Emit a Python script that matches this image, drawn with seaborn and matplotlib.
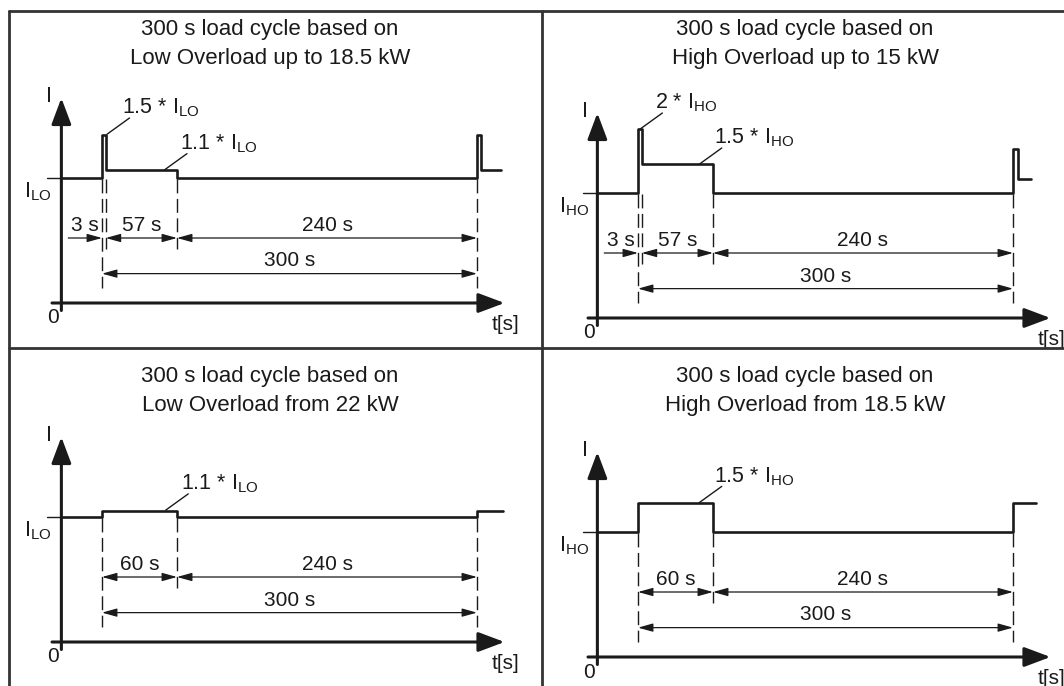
import matplotlib
matplotlib.use("Agg")
import matplotlib.pyplot as plt
from matplotlib.lines import Line2D
import seaborn as sns

#########################################################################
# load cycle shapes: step edges in seconds, drawn current level (x rated current)
tl_t = [-32.5, 0, 3, 60, 300, 303, 319]
tl_i = [1.0, 1.34, 1.06, 1.0, 1.34, 1.06, 1.06]
tr_t = [-32.5, 0, 3, 60, 300, 304, 314]
tr_i = [1.0, 1.51, 1.23, 1.0, 1.35, 1.11, 1.11]
bl_t = [-32.5, 0, 60, 300, 321]
bl_i = [1.0, 1.05, 1.0, 1.05, 1.05]
br_t = [-32.5, 0, 60, 300, 318]
br_i = [1.0, 1.23, 1.0, 1.23, 1.23]

titles = ["300 s load cycle based on\nLow Overload up to 18.5 kW",
          "300 s load cycle based on\nHigh Overload up to 15 kW",
          "300 s load cycle based on\nLow Overload from 22 kW",
          "300 s load cycle based on\nHigh Overload from 18.5 kW"]
rated = ["LO", "HO", "LO", "HO"]

# dimension arrows (start s, end s, label)
short_dims = [(-27, 0, "3 s"), (3, 60, "57 s"), (60, 300, "240 s")]
long_dims = [(0, 60, "60 s"), (60, 300, "240 s")]
total_dim = (0, 300, "300 s")

short_marks = [0, 3, 60, 300]
long_marks = [0, 60, 300]

# overload callouts: (factor, leader start t, leader start I)
tl_notes = [("1.5", 4, 1.35), ("1.1", 50, 1.065)]
tr_notes = [("2", 1.5, 1.51), ("1.5", 49, 1.23)]
bl_notes = [("1.1", 51, 1.055)]
br_notes = [("1.5", 49, 1.235)]

x_tips = [322, 330, 322, 330]

#########################################################################
sns.set_theme(style="white")
plt.rcParams["font.family"] = ["Liberation Sans", "DejaVu Sans"]
plt.rcParams["mathtext.default"] = "regular"

INK = "#1a1a1a"
W, H = 1064, 686
PX_S, PX_I = 1.25, 125.0
origins = [(102, 303), (638, 318), (102, 642), (638, 657)]
title_pos = [(270, 44), (805, 44), (270, 391), (805, 391)]

fig = plt.figure(figsize=(W / 100, H / 100), dpi=100)
fig.patch.set_facecolor("white")

panels = [(tl_t, tl_i, short_dims, short_marks, tl_notes),
          (tr_t, tr_i, short_dims, short_marks, tr_notes),
          (bl_t, bl_i, long_dims, long_marks, bl_notes),
          (br_t, br_i, long_dims, long_marks, br_notes)]

for k, (t, i, dims, marks, notes) in enumerate(panels):
    ox, oy = origins[k]
    ax = fig.add_axes([0, 0, 1, 1])
    ax.set_xlim(-ox / PX_S, (W - ox) / PX_S)
    ax.set_ylim((oy - H) / PX_I, oy / PX_I)
    ax.axis("off")
    ax.patch.set_alpha(0)

    # axes with arrow heads
    ax.annotate("", xy=(-32.5, 1.64), xytext=(-32.5, -0.06),
                arrowprops=dict(arrowstyle="-|>,head_length=0.8,head_width=0.3",
                                mutation_scale=20, lw=2.2, color=INK,
                                shrinkA=0, shrinkB=0))
    ax.annotate("", xy=(x_tips[k], 0), xytext=(-40, 0),
                arrowprops=dict(arrowstyle="-|>,head_length=0.8,head_width=0.3",
                                mutation_scale=20, lw=2.2, color=INK,
                                shrinkA=0, shrinkB=0))
    ax.plot([-44, -32.5], [1, 1], color=INK, lw=1.0)

    # the load cycle
    sns.lineplot(x=t, y=i, ax=ax, drawstyle="steps-post", estimator=None,
                 sort=False, color=INK, lw=1.9)

    # dashed marks
    for m in marks:
        bottom = 0.12 if m in (0, 300) else 0.43
        ax.plot([m, m], [0.99, bottom], color=INK, lw=1.0, ls=(0, (10, 4)))

    # dimension lines
    for a, b, lab in dims:
        style = "-|>" if a < 0 else "<|-|>"
        ax.annotate("", xy=(b, 0.52), xytext=(a, 0.52),
                    arrowprops=dict(arrowstyle=style + ",head_length=0.9,head_width=0.25",
                                    mutation_scale=10, lw=0.9, color=INK,
                                    shrinkA=0, shrinkB=0))
        ax.text((a + b) / 2, 0.545, lab, ha="center", va="bottom", fontsize=15, color=INK)
    a, b, lab = total_dim
    ax.annotate("", xy=(b, 0.235), xytext=(a, 0.235),
                arrowprops=dict(arrowstyle="<|-|>,head_length=0.9,head_width=0.25",
                                mutation_scale=10, lw=0.9, color=INK,
                                shrinkA=0, shrinkB=0))
    ax.text((a + b) / 2, 0.26, lab, ha="center", va="bottom", fontsize=15, color=INK)

    # callouts
    for fac, nt, ni in notes:
        ax.plot([nt, nt + 18], [ni, ni + 0.13], color=INK, lw=1.0)
        ax.text(nt + 12, ni + 0.21, fac + " * $I_{" + rated[k] + "}$",
                ha="left", va="center", fontsize=15.5, color=INK)

    # axis labels
    ax.text(-42, 1.65, "I", ha="center", va="center", fontsize=15.5, color=INK)
    ax.text(-51, 0.89, "$I_{" + rated[k] + "}$", ha="center", va="center",
            fontsize=15.5, color=INK)
    ax.text(-39.5, -0.12, "0", ha="center", va="center", fontsize=15, color=INK)
    ax.text(x_tips[k] + 1, -0.17, "t[s]", ha="center", va="center", fontsize=15, color=INK)

    tx, ty = title_pos[k]
    fig.text(tx / W, 1 - ty / H, titles[k], ha="center", va="center",
             fontsize=16, linespacing=1.55, color=INK)

# frame
for (x0, y0, x1, y1) in [(9, 11, W, 11), (9, 11, 9, H), (542, 11, 542, H), (9, 348, W, 348)]:
    fig.add_artist(Line2D([x0 / W, x1 / W], [1 - y0 / H, 1 - y1 / H],
                          transform=fig.transFigure, color="#333333", lw=2.0))

fig.savefig("out.png", dpi=100)
